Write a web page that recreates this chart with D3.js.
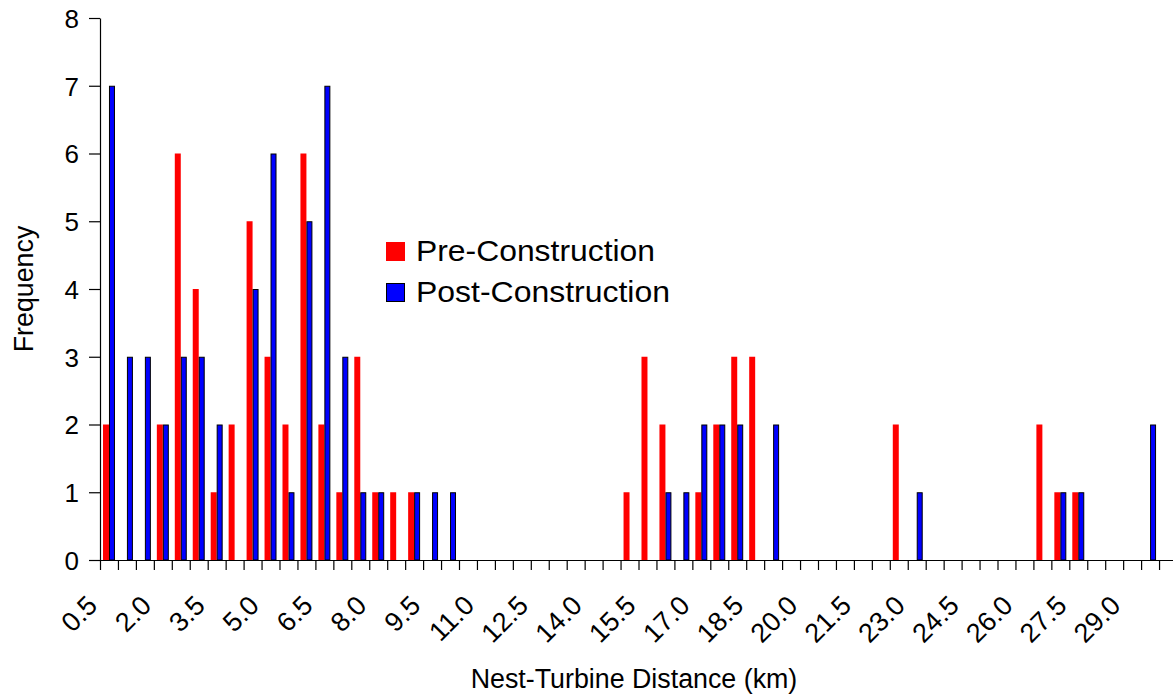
<!DOCTYPE html>
<html>
<head>
<meta charset="utf-8">
<script src="https://cdn.jsdelivr.net/npm/d3@7/dist/d3.min.js"></script>
<style>
  html, body { margin: 0; padding: 0; background: #fff; }
  svg { display: block; }
  text { font-family: "Liberation Sans", Arial, sans-serif; fill: #000; }
</style>
</head>
<body>
<svg id="chart" width="1173" height="698"></svg>
<script>
// ---- data ----
const categories = ["0.5","1.0","1.5","2.0","2.5","3.0","3.5","4.0","4.5","5.0",
  "5.5","6.0","6.5","7.0","7.5","8.0","8.5","9.0","9.5","10.0",
  "10.5","11.0","11.5","12.0","12.5","13.0","13.5","14.0","14.5","15.0",
  "15.5","16.0","16.5","17.0","17.5","18.0","18.5","19.0","19.5","20.0",
  "20.5","21.0","21.5","22.0","22.5","23.0","23.5","24.0","24.5","25.0",
  "25.5","26.0","26.5","27.0","27.5","28.0","28.5","29.0","29.5","30.0"];
const preConstruction = [2,0,0,2,6,4,1,2,5,3, 2,6,2,1,3,1,1,1,0,0,
  0,0,0,0,0,0,0,0,0,1, 3,2,0,1,2,3,3,0,0,0,
  0,0,0,0,2,0,0,0,0,0, 0,0,2,1,1,0,0,0,0,0];
const postConstruction = [7,3,3,2,3,3,2,0,4,6, 1,5,7,3,1,1,0,1,1,1,
  0,0,0,0,0,0,0,0,0,0, 0,1,1,2,2,2,0,2,0,0,
  0,0,0,0,0,1,0,0,0,0, 0,0,0,1,1,0,0,0,2,0];
const xTickLabels = ["0.5","2.0","3.5","5.0","6.5","8.0","9.5","11.0","12.5","14.0",
  "15.5","17.0","18.5","20.0","21.5","23.0","24.5","26.0","27.5","29.0"];
const yTicks = [0,1,2,3,4,5,6,7,8];
const seriesNames = ["Pre-Construction","Post-Construction"];
const seriesColors = ["#FF0000","#0000FF"];

// ---- layout ----
const svg = d3.select("#chart");
const mLeft = 100, mTop = 18, mBottom = 560;
const catW = 17.95;
const mRight = mLeft + catW * categories.length;

const x = d3.scaleBand().domain(categories).range([mLeft, mRight]).paddingInner(0).paddingOuter(0);
const xs = d3.scaleBand().domain(seriesNames).range([0, x.bandwidth()]).paddingInner(0).paddingOuter(0.5);
const xb = d3.scaleLinear().domain([0, categories.length]).range([mLeft, mRight]);
const y = d3.scaleLinear().domain([0, 8]).range([mBottom, mTop]);

const rows = categories.map((c, i) => ({cat: c, vals: [preConstruction[i], postConstruction[i]]}));

// bars
const g = svg.append("g");
rows.forEach(r => {
  r.vals.forEach((v, si) => {
    if (v <= 0) return;
    const rect = g.append("rect")
      .attr("x", x(r.cat) + xs(seriesNames[si]))
      .attr("y", y(v))
      .attr("width", xs.bandwidth())
      .attr("height", y(0) - y(v))
      .attr("fill", seriesColors[si]);
    if (si === 1) rect.attr("stroke", "#000").attr("stroke-width", 1)
      .attr("x", x(r.cat) + xs(seriesNames[si]) + 0.5)
      .attr("width", xs.bandwidth() - 1)
      .attr("y", y(v) + 0.5)
      .attr("height", y(0) - y(v) - 0.5);
  });
});

// y axis
const yAxis = svg.append("g").attr("transform", `translate(${mLeft},0)`)
  .call(d3.axisLeft(y).tickValues(yTicks).tickFormat(d3.format("d")).tickSize(11).tickSizeOuter(0).tickPadding(10));
yAxis.selectAll("text").style("font-size", "26px").attr("dy", "0.36em");
yAxis.selectAll("line,path").attr("stroke", "#000").attr("stroke-width", 1.2);

// x axis (ticks at category boundaries)
const xAxis = svg.append("g").attr("transform", `translate(0,${mBottom})`)
  .call(d3.axisBottom(xb).tickValues(d3.range(0, categories.length + 1)).tickFormat("").tickSize(10).tickSizeOuter(0));
xAxis.selectAll("line,path").attr("stroke", "#000").attr("stroke-width", 1.2);

// x labels
const xLab = svg.append("g").attr("transform", `translate(0,${mBottom})`)
  .call(d3.axisBottom(x).tickValues(xTickLabels).tickSize(0).tickSizeOuter(0));
xLab.select(".domain").remove();
xLab.selectAll("text")
  .style("font-size", "27px")
  .attr("text-anchor", "end")
  .attr("y", 0).attr("dy", 0)
  .attr("transform", "translate(-10,47) rotate(-45)");

// axis titles
svg.append("text").attr("x", 634).attr("y", 688).attr("text-anchor", "middle")
  .style("font-size", "26.8px").text("Nest-Turbine Distance (km)");
svg.append("text").attr("transform", `translate(33,${(mTop + mBottom) / 2}) rotate(-90)`)
  .attr("text-anchor", "middle").style("font-size", "26.8px").text("Frequency");

// legend
const legendWidths = [239, 254];
const legend = svg.append("g").attr("transform", "translate(386,242)");
seriesNames.forEach((name, i) => {
  const row = legend.append("g").attr("transform", `translate(0,${i * 41})`);
  const sq = row.append("rect").attr("width", 19).attr("height", 19).attr("fill", seriesColors[i]);
  if (i === 1) sq.attr("stroke", "#000").attr("stroke-width", 1).attr("x", 0.5).attr("y", 0.5).attr("width", 18).attr("height", 18);
  row.append("text").attr("x", 30).attr("y", 19).style("font-size", "30px")
    .attr("textLength", legendWidths[i]).attr("lengthAdjust", "spacingAndGlyphs").text(name);
});
</script>
</body>
</html>
